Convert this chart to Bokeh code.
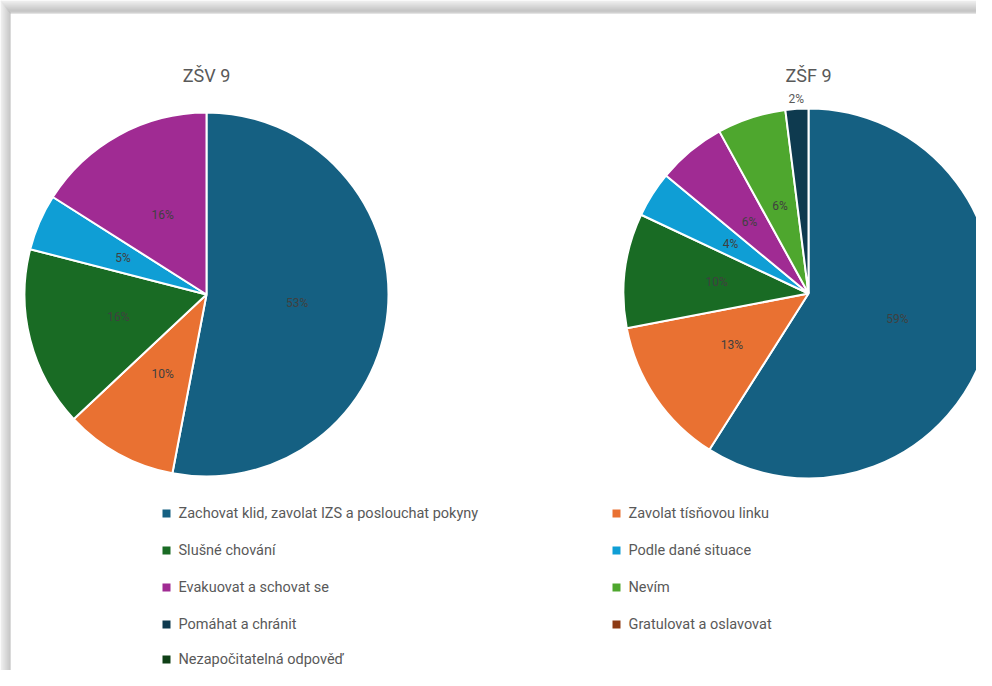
import math
from bokeh.plotting import figure
from bokeh.models import Range1d, ColumnDataSource
from bokeh.core.properties import value
from bokeh.embed import file_html
from bokeh.resources import INLINE

# ---- data ----
categories = [
    "Zachovat klid, zavolat IZS a poslouchat pokyny",
    "Zavolat tísňovou linku",
    "Slušné chování",
    "Podle dané situace",
    "Evakuovat a schovat se",
    "Nevím",
    "Pomáhat a chránit",
    "Gratulovat a oslavovat",
    "Nezapočitatelná odpověď",
]
colors = ["#156082", "#E97132", "#196B24", "#0F9ED5", "#A02B93",
          "#4EA72E", "#0E3A4F", "#8C3A14", "#0F4016"]
zsv_values = [53, 10, 16, 5, 16, 0, 0, 0, 0]
zsf_values = [59, 13, 10, 4, 6, 6, 2, 0, 0]
titles = ["ZŠV 9", "ZŠF 9"]

W, H = 976, 670
FONT = "Roboto"
GREY = "#595959"


def Y(ys):
    # screen y (px from top of the picture) -> data y
    return H - ys


p = figure(width=W, height=H, output_backend="svg", toolbar_location=None,
           x_range=Range1d(0, W), y_range=Range1d(0, H),
           min_border=0, outline_line_color=None, background_fill_color="white",
           border_fill_color="white")
p.axis.visible = False
p.grid.visible = False

# frame shadow of the screenshot (gradient strips)
shade = ["#ececec", "#e6e6e6", "#e0e0e0", "#dadada", "#d4d4d4", "#cecece",
         "#c8c8c8", "#c2c2c2", "#bcbcbc", "#b6b6b6", "#b2b2b2", "#b8b8b8", "#c8c8c8"]
for i, c in enumerate(shade):
    p.quad(left=[max(0, i * 10 / 13)], right=[W], bottom=[Y(i + 1)], top=[Y(i)],
           fill_color=c, line_color=None)
for i, c in enumerate(shade[:10]):
    p.quad(left=[i], right=[i + 1], bottom=[0], top=[Y(i * 13 / 10)],
           fill_color=c, line_color=None)


def pie(vals, cx, cy, R, title, ty):
    total = float(sum(vals))
    starts, ends, cols, lx, ly, lt, lc = [], [], [], [], [], [], []
    cum = 0.0
    for v, c in zip(vals, colors):
        if v <= 0:
            continue
        a0 = math.pi / 2 - 2 * math.pi * cum / total
        cum += v
        a1 = math.pi / 2 - 2 * math.pi * cum / total
        starts.append(a0)
        ends.append(a1)
        cols.append(c)
        mid = (a0 + a1) / 2
        r = 0.5 * R if v >= 3 else R + 10
        lx.append(cx + r * math.cos(mid))
        ly.append(Y(cy) + r * math.sin(mid))
        lt.append(f"{v}%")
        lc.append("#404040" if v >= 3 else GREY)
    src = ColumnDataSource(dict(s=starts, e=ends, c=cols))
    p.wedge(x=cx, y=Y(cy), radius=R, start_angle="s", end_angle="e",
            direction="clock", fill_color="c", line_color="white", line_width=2,
            source=src)
    p.text(x=lx, y=ly, text=lt, text_color=lc, text_font=value(FONT),
           text_font_size=value("12px"), text_align="center", text_baseline="middle")
    p.text(x=[cx], y=[Y(ty)], text=[title], text_color=GREY, text_font=value(FONT),
           text_font_size=value("18px"), text_align="center", text_baseline="middle")


pie(zsv_values, 206, 294, 182, titles[0], 75)
pie(zsf_values, 808, 293, 185, titles[1], 75)

# legend (two columns)
col_x = [178, 628]
row_y = [513, 550, 587, 624, 659]
tx, ty, mx, my = [], [], [], []
for i, name in enumerate(categories):
    x = col_x[i % 2]
    y = row_y[i // 2]
    tx.append(x)
    ty.append(Y(y))
    mx.append(x - 12)
    my.append(Y(y))
p.scatter(x=mx, y=my, marker="square", size=8, fill_color=colors, line_color=None)
p.text(x=tx, y=ty, text=categories, text_color=GREY, text_font=value(FONT),
       text_font_size=value("14.5px"), text_align="left", text_baseline="middle")

open("out.html", "w").write(file_html(p, INLINE))
